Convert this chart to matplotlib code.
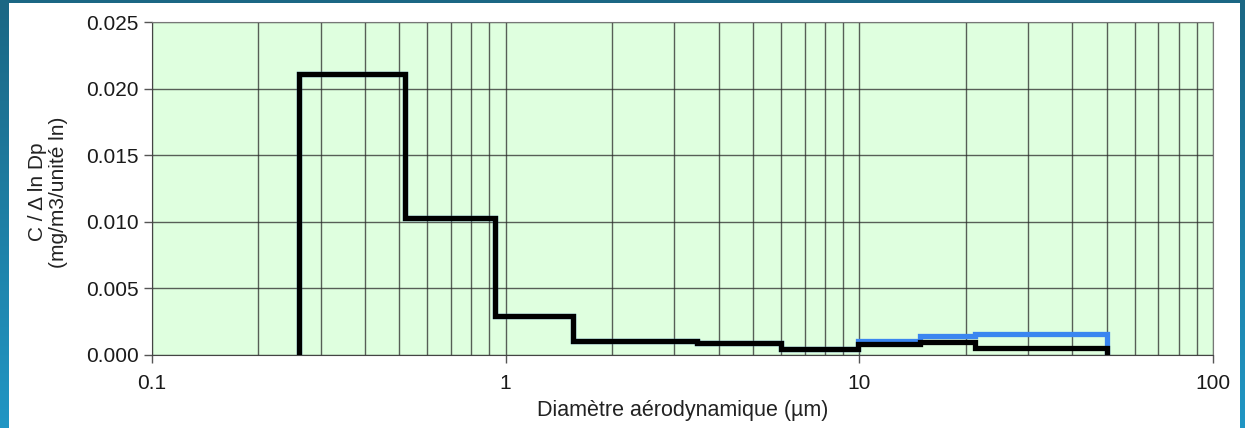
import numpy as np
import matplotlib
matplotlib.use('Agg')
import matplotlib.pyplot as plt
from matplotlib.patches import Rectangle
from matplotlib.colors import LinearSegmentedColormap
from matplotlib.ticker import FixedLocator, NullFormatter

plt.rcParams['font.family'] = ['Liberation Sans', 'DejaVu Sans']

# bin edges (µm) and C / dlnDp per bin (mg/m3/unité ln)
edges = [0.26, 0.52, 0.93, 1.55, 3.47, 6.0, 9.9, 14.8, 21.2, 50.0]
c_black = [0.0211, 0.0103, 0.00295, 0.00107, 0.00088, 0.00045, 0.00083, 0.00100, 0.00053]
c_blue = [0.0211, 0.0103, 0.00295, 0.00107, 0.00088, 0.00045, 0.00107, 0.00143, 0.00158]

xticks = [0.1, 1, 10, 100]
xtick_labels = ['0.1', '1', '10', '100']
yticks = [0.000, 0.005, 0.010, 0.015, 0.020, 0.025]

fig = plt.figure(figsize=(12.45, 4.28), dpi=100)

# blue slide background with a white panel on top
bg = fig.add_axes([0, 0, 1, 1])
grad = np.linspace(0, 1, 256).reshape(-1, 1)
cmap = LinearSegmentedColormap.from_list('slide', ['#1b6784', '#2196c4'])
bg.imshow(grad, aspect='auto', cmap=cmap, extent=[0, 1, 0, 1], origin='upper')
bg.add_patch(Rectangle((9 / 1245, 0), (1240 - 9) / 1245, 1 - 3 / 428,
                       facecolor='white', edgecolor='none'))
bg.set_xlim(0, 1)
bg.set_ylim(0, 1)
bg.axis('off')

ax = fig.add_axes([152 / 1245, 1 - 355 / 428, (1213 - 152) / 1245, (355 - 22) / 428])
ax.set_facecolor('#dfffdf')
ax.set_xscale('log')
ax.set_xlim(0.1, 100)
ax.set_ylim(0, 0.025)

ax.stairs(c_blue, edges, baseline=0, color='#3a86f0', linewidth=3.8, zorder=3)
ax.stairs(c_black, edges, baseline=0, color='black', linewidth=3.8, zorder=4)

ax.xaxis.set_major_locator(FixedLocator(xticks))
ax.set_xticklabels(xtick_labels)
minor = [m * d for d in [0.1, 1, 10] for m in range(2, 10)]
ax.xaxis.set_minor_locator(FixedLocator(minor))
ax.xaxis.set_minor_formatter(NullFormatter())
ax.set_yticks(yticks)
ax.set_yticklabels([f'{v:.3f}' for v in yticks])

ax.grid(True, which='both', axis='x', color='#2a2a2a', alpha=0.75, linewidth=1)
ax.grid(True, which='major', axis='y', color='#2a2a2a', alpha=0.75, linewidth=1)
ax.set_axisbelow(True)

ax.tick_params(axis='both', which='major', direction='out', length=6, width=1,
               color='#555555', labelsize=15, labelcolor='#1a1a1a')
ax.tick_params(axis='x', which='minor', length=0)
ax.tick_params(axis='x', which='major', pad=8)
for side in ['top', 'right']:
    ax.spines[side].set_color('#777777')
for side in ['left', 'bottom']:
    ax.spines[side].set_color('#444444')

ax.set_xlabel('Diamètre aérodynamique (µm)', fontsize=15.5, color='#222222', labelpad=5)
ax.set_ylabel('C / \u0394 ln Dp\n(mg/m3/unité ln)', fontsize=15, color='#222222',
              linespacing=1.15)
ax.yaxis.set_label_coords(-(152 - 68) / 1061, 0.49)

fig.savefig('out.png', dpi=100)
